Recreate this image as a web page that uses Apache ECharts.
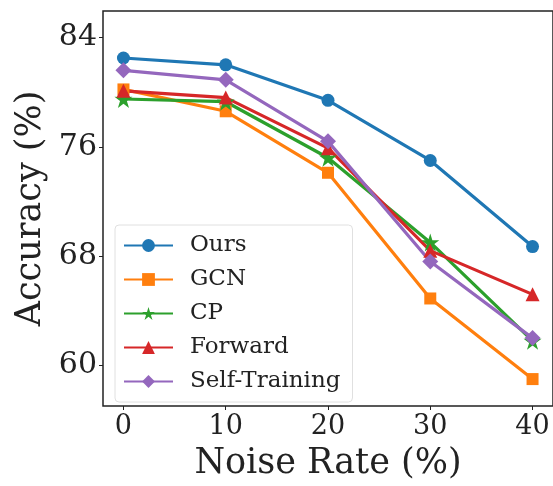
<!DOCTYPE html>
<html>
<head>
<meta charset="utf-8">
<script src="https://cdn.jsdelivr.net/npm/echarts@6/dist/echarts.min.js"></script>
<style>
  html, body { margin: 0; padding: 0; background: #fff; }
  #chart { width: 553px; height: 486px; }
</style>
</head>
<body>
<div id="chart"></div>
<script>
// x values (noise rate, %)
const noiseRates = [0, 10, 20, 30, 40];
// accuracy (%) per method
const ours = [82.5, 82.0, 79.4, 75.0, 68.7];
const gcn = [80.2, 78.6, 74.1, 64.9, 59.0];
const cp = [79.5, 79.3, 75.2, 69.0, 61.8];
const forward = [80.1, 79.6, 75.9, 68.4, 65.2];
const selfTraining = [81.6, 80.9, 76.4, 67.6, 62.0];
// tick labels
const xTicks = [0, 10, 20, 30, 40];
const yTicks = [60, 68, 76, 84];

const starPath = 'path://M100,0L122.3,69.3L195.1,69.1L136.1,111.7L158.8,180.9L100,138L41.2,180.9L63.9,111.7L4.9,69.1L77.7,69.3Z';
const font = 'DejaVu Serif';

const chart = echarts.init(document.getElementById('chart'), null, { renderer: 'canvas' });

function makeSeries(name, values, color, symbol, size) {
  return {
    name: name,
    type: 'line',
    data: noiseRates.map((x, i) => [x, values[i]]),
    symbol: symbol,
    symbolSize: size,
    showAllSymbol: true,
    lineStyle: { color: color, width: 3.2 },
    itemStyle: { color: color },
    emphasis: { disabled: true },
    animation: false
  };
}

const option = {
  animation: false,
  grid: {
    left: 103,
    top: 11,
    width: 453,
    height: 402,
    show: true,
    borderColor: '#222',
    borderWidth: 1.5,
    backgroundColor: 'transparent'
  },
  legend: {
    orient: 'vertical',
    left: 115,
    top: 225,
    padding: [9, 12, 9, 8],
    itemGap: 11,
    itemWidth: 49,
    itemHeight: 16,
    backgroundColor: '#fff',
    borderColor: '#e0e0e0',
    borderWidth: 1,
    borderRadius: 4,
    textStyle: {
      fontFamily: font,
      fontSize: 23,
      color: '#222',
      padding: [0, 0, 0, 12]
    },
    data: ['Ours', 'GCN', 'CP', 'Forward', 'Self-Training']
  },
  xAxis: {
    type: 'value',
    min: -2,
    max: 42,
    name: 'Noise Rate (%)',
    nameLocation: 'middle',
    nameGap: 40,
    nameTextStyle: { fontFamily: font, fontSize: 35, color: '#222' },
    axisLine: { show: false, onZero: false },
    splitLine: { show: false },
    axisTick: { show: true, length: 4, customValues: xTicks, lineStyle: { color: '#222' } },
    axisLabel: { customValues: xTicks, fontFamily: font, fontSize: 27, color: '#222', margin: 7 }
  },
  yAxis: {
    type: 'value',
    min: 57.03,
    max: 85.94,
    name: 'Accuracy (%)',
    nameLocation: 'middle',
    nameGap: 53,
    nameTextStyle: { fontFamily: font, fontSize: 35, color: '#222' },
    axisLine: { show: false, onZero: false },
    splitLine: { show: false },
    axisTick: { show: true, length: 4, customValues: yTicks, lineStyle: { color: '#222' } },
    axisLabel: { customValues: yTicks, fontFamily: font, fontSize: 30, color: '#222', margin: 6 }
  },
  series: [
    makeSeries('Ours', ours, '#1f77b4', 'circle', 13),
    makeSeries('GCN', gcn, '#ff7f0e', 'rect', 12),
    makeSeries('CP', cp, '#2ca02c', starPath, 18),
    makeSeries('Forward', forward, '#d62728', 'triangle', 14),
    makeSeries('Self-Training', selfTraining, '#9467bd', 'diamond', 16)
  ]
};

chart.setOption(option);
</script>
</body>
</html>
